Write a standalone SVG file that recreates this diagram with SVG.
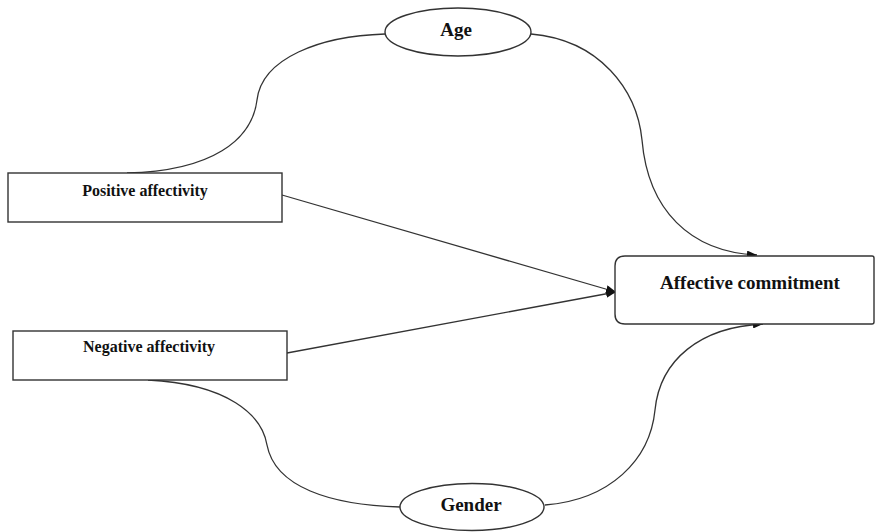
<svg xmlns="http://www.w3.org/2000/svg" width="875" height="532" viewBox="0 0 875 532">
<style>
.box{fill:#fff;stroke:#333;stroke-width:1.4}
.lbl{font-family:"Liberation Serif","Times New Roman",serif;font-weight:bold;fill:#111;text-anchor:middle}
.edge{fill:none;stroke:#333;stroke-width:1.3}
</style>
<defs>
<marker id="arr" viewBox="0 0 10 8" refX="10" refY="4" markerWidth="10" markerHeight="8" markerUnits="userSpaceOnUse" orient="auto">
<path d="M0,0 L10,4 L0,8 Z" fill="#111"/>
</marker>
</defs>
<rect width="875" height="532" fill="#fff"/>
<g id="connectors">
<path class="edge" d="M127,173 C212,171 252,140 257,100 C262,58 320,36 385,34"/>
<path class="edge" d="M531,34 C600,40 637,90 642,140 C648,210 690,252 757,255" marker-end="url(#arr)"/>
<path class="edge" d="M282,195 L616,292" marker-end="url(#arr)"/>
<path class="edge" d="M287,353 L616,292" marker-end="url(#arr)"/>
<path class="edge" d="M148,380 C228,384 262,415 267,445 C275,487 330,505 400,507"/>
<path class="edge" d="M545,505 C610,500 650,460 655,410 C660,360 700,327 763,324" marker-end="url(#arr)"/>
</g>
<g id="positive">
<rect class="box" x="8" y="173" width="274" height="49"/>
<text class="lbl" x="145" y="196" font-size="16">Positive affectivity</text>
</g>
<g id="negative">
<rect class="box" x="13" y="331" width="274" height="49"/>
<text class="lbl" x="149" y="352" font-size="16">Negative affectivity</text>
</g>
<g id="commitment">
<path class="box" d="M625,256 H872 Q874,256 874,258 V322 Q874,324 872,324 H625 Q615,324 615,314 V266 Q615,256 625,256 Z"/>
<text class="lbl" x="750" y="289" font-size="19">Affective commitment</text>
</g>
<g id="age">
<ellipse class="box" cx="458" cy="32" rx="73" ry="24"/>
<text class="lbl" x="456" y="36" font-size="19">Age</text>
</g>
<g id="gender">
<ellipse class="box" cx="472" cy="507" rx="72" ry="23.5"/>
<text class="lbl" x="471" y="511" font-size="19">Gender</text>
</g>
</svg>
